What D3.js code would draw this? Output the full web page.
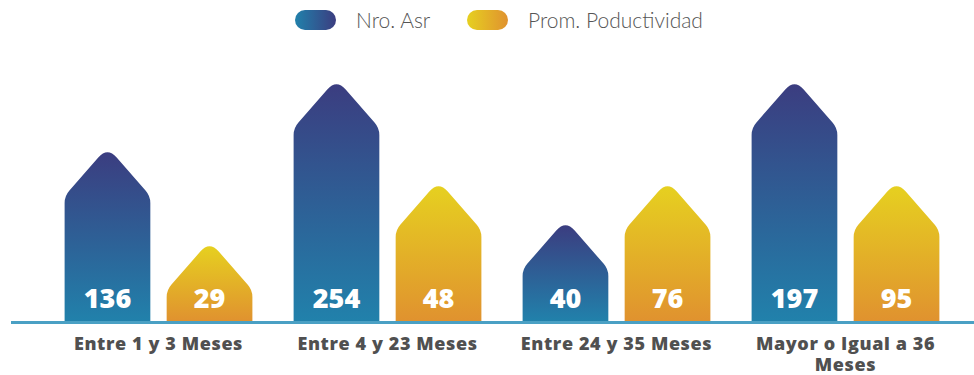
<!DOCTYPE html>
<html lang="es">
<head>
<meta charset="UTF-8">
<title>Nro. Asr / Prom. Poductividad</title>
<script src="https://d3js.org/d3.v7.min.js"></script>
<style>
  body { margin: 0; background: #fff; }
  svg { display: block; }
</style>
</head>
<body>
<script>
    const categories = ["Entre 1 y 3 Meses", "Entre 4 y 23 Meses", "Entre 24 y 35 Meses", "Mayor o Igual a 36 Meses"];
    const seriesNames = ["Nro. Asr", "Prom. Poductividad"];
    const nroAsr = [136, 254, 40, 197];
    const promProductividad = [29, 48, 76, 95];

    const width = 974, height = 375;
    const baseline = 321;

    const svg = d3.select("body").append("svg")
        .attr("width", width)
        .attr("height", height);

    const defs = svg.append("defs");

    // vertical gradients for the bars, horizontal ones for the legend pills
    function gradient(id, top, bottom, horizontal) {
        const g = defs.append("linearGradient").attr("id", id)
            .attr("x1", 0).attr("y1", 0)
            .attr("x2", horizontal ? 1 : 0).attr("y2", horizontal ? 0 : 1);
        g.append("stop").attr("offset", "0%").attr("stop-color", top);
        g.append("stop").attr("offset", "100%").attr("stop-color", bottom);
    }
    gradient("gBlue", "#3b3d80", "#2181ab", false);
    gradient("gGold", "#e6d020", "#e0922f", false);
    gradient("lBlue", "#2181ab", "#3b3d80", true);
    gradient("lGold", "#e6d020", "#e0922f", true);

    const x = d3.scaleBand().domain(categories).range([44, 960])
        .paddingInner(0.18).paddingOuter(0.09);
    const xs = d3.scaleBand().domain(seriesNames).range([0, x.bandwidth()])
        .paddingInner(0.16);

    // the picture uses a clamped, non-linear display scale per series
    const yBlue = d3.scalePow().exponent(2).domain([0, 185])
        .range([baseline - 89, baseline - 237]).clamp(true);
    const yGold = d3.scalePow().exponent(2).domain([0, 48])
        .range([baseline - 40.5, baseline - 135]).clamp(true);

    // bar with a pointed, rounded top
    function barPath(x0, w, top) {
        const cx = x0 + w / 2;
        const apex = top - 5;
        const shoulder = apex + 49;
        const len = Math.hypot(w / 2, shoulder - apex);
        const ux = (w / 2) / len, uy = (shoulder - apex) / len;
        const r = 7, ra = 14;
        const p = d3.path();
        p.moveTo(x0, baseline);
        p.lineTo(x0, shoulder + r);
        p.quadraticCurveTo(x0, shoulder, x0 + r * ux, shoulder - r * uy);
        p.lineTo(cx - ra * ux, apex + ra * uy);
        p.quadraticCurveTo(cx, apex, cx + ra * ux, apex + ra * uy);
        p.lineTo(x0 + w - r * ux, shoulder - r * uy);
        p.quadraticCurveTo(x0 + w, shoulder, x0 + w, shoulder + r);
        p.lineTo(x0 + w, baseline);
        p.closePath();
        return p.toString();
    }

    const rows = categories.map((c, i) => ({
        cat: c,
        bars: [
            { s: seriesNames[0], v: nroAsr[i], y: yBlue, fill: "url(#gBlue)" },
            { s: seriesNames[1], v: promProductividad[i], y: yGold, fill: "url(#gGold)" }
        ]
    }));

    const groups = svg.append("g").selectAll("g")
        .data(rows)
        .join("g")
        .attr("transform", d => `translate(${x(d.cat)},0)`);

    const bars = groups.selectAll("g")
        .data(d => d.bars)
        .join("g");

    bars.append("path")
        .attr("d", d => barPath(xs(d.s), xs.bandwidth(), d.y(d.v)))
        .attr("fill", d => d.fill);

    bars.append("text")
        .attr("x", d => xs(d.s) + xs.bandwidth() / 2)
        .attr("y", baseline - 13)
        .attr("text-anchor", "middle")
        .attr("fill", "#fff")
        .style("font-family", "'Open Sans', sans-serif")
        .style("font-weight", 800)
        .style("font-size", "27px")
        .text(d => d.v);

    // base line
    svg.append("line")
        .attr("x1", 11).attr("x2", width)
        .attr("y1", baseline + 1.5).attr("y2", baseline + 1.5)
        .attr("stroke", "#4aa0c4")
        .attr("stroke-width", 3);

    // category labels
    const axis = svg.append("g")
        .attr("transform", `translate(0,${baseline})`)
        .call(d3.axisBottom(x).tickSize(0).tickPadding(0));
    axis.select(".domain").remove();
    axis.selectAll("text")
        .attr("fill", "#505050")
        .style("font-family", "'Open Sans', sans-serif")
        .style("font-weight", 800)
        .style("font-size", "18px")
        .style("letter-spacing", "0.6px")
        .call(wrap, 215);

    function wrap(sel, maxW) {
        const y0 = 29, lh = 21;
        sel.each(function () {
            const t = d3.select(this);
            const words = t.text().split(/\s+/);
            t.text(null).attr("y", y0).attr("dy", 0);
            let line = [];
            let ts = t.append("tspan").attr("x", 0).attr("y", y0);
            let n = 0;
            words.forEach(w => {
                line.push(w);
                ts.text(line.join(" "));
                if (ts.node().getComputedTextLength() > maxW && line.length > 1) {
                    line.pop();
                    ts.text(line.join(" "));
                    line = [w];
                    n++;
                    ts = t.append("tspan").attr("x", 0).attr("y", y0 + n * lh).text(w);
                }
            });
        });
    }

    // legend
    const legendItems = [
        { name: seriesNames[0], fill: "url(#lBlue)", x: 295 },
        { name: seriesNames[1], fill: "url(#lGold)", x: 467 }
    ];
    const li = svg.append("g").selectAll("g").data(legendItems).join("g")
        .attr("transform", d => `translate(${d.x},10)`);
    li.append("rect")
        .attr("width", 41).attr("height", 20)
        .attr("rx", 10)
        .attr("fill", d => d.fill);
    li.append("text")
        .attr("x", 61).attr("y", 18)
        .attr("fill", "#555")
        .style("font-family", "Lato, sans-serif")
        .style("font-weight", 300)
        .style("font-size", "21px")
        .text(d => d.name);
</script>
</body>
</html>
